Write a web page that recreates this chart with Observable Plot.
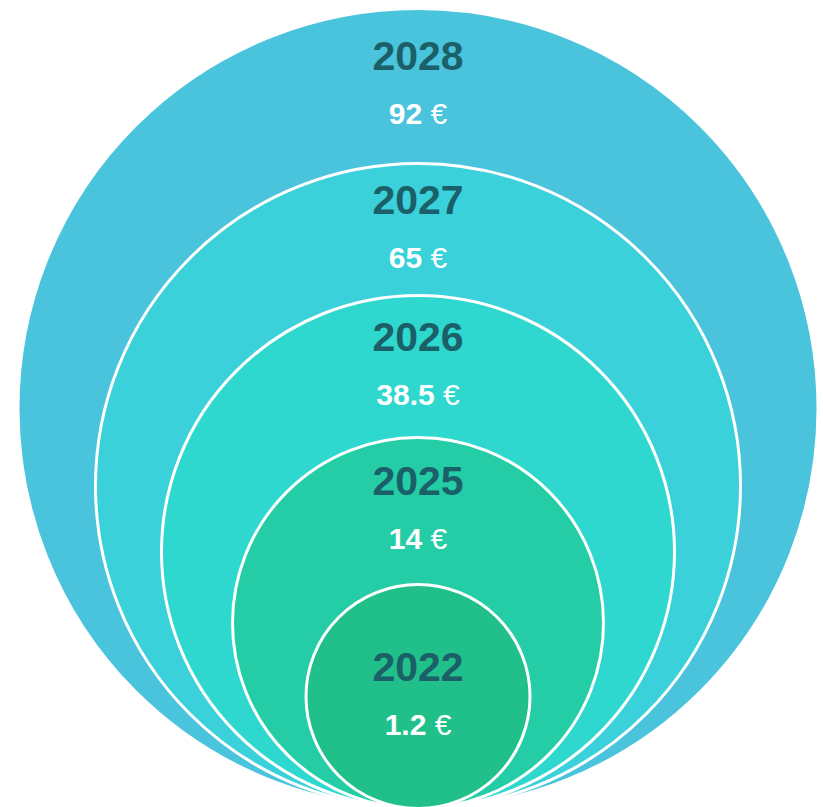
<!DOCTYPE html>
<html>
<head>
<meta charset="utf-8">
<script src="https://cdn.jsdelivr.net/npm/d3@7"></script>
<script src="https://cdn.jsdelivr.net/npm/@observablehq/plot@0.6"></script>
<style>
  html, body { margin: 0; padding: 0; background: #fff; }
  #chart svg { display: block; }
</style>
</head>
<body>
<div id="chart"></div>
<script>
// Data (outermost circle first)
const years  = ["2028", "2027", "2026", "2025", "2022"];
const values = [92, 65, 38.5, 14, 1.2];
const unit   = "€";

// Styles
const fills = ["#4ac4dc", "#3ad1da", "#2ed8ce", "#25cda6", "#21c08a"];
const yearColor = "#1b6068";
const font = "'Liberation Sans', Arial, Helvetica, sans-serif";

// Rank -> radius (size encoding by rank, 0 = smallest)
const rScale = Plot.scale({r: {type: "linear", domain: [0, 1, 2, 3, 4], range: [112, 185.5, 256.5, 322.5, 400]}});

const n = years.length;
const data = years.map((year, i) => {
  const rank = n - 1 - i;
  const r = rScale.apply(rank);
  const rNext = rank > 0 ? rScale.apply(rank - 1) : 0;
  return {year, value: values[i], label: `${values[i]} ${unit}`, fill: fills[i], r, mid: r + rNext};
});

const W = 823, H = 807, base = 808, cx = 417.5;

const plot = Plot.plot({
  width: W,
  height: H,
  margin: 0,
  x: {domain: [-cx, W - cx], range: [0, W], axis: null},
  y: {domain: [0, base], range: [base, 0], axis: null},
  r: {type: "identity"},
  style: {fontFamily: font, background: "transparent"},
  marks: [
    Plot.dot(data, {x: () => 0, y: "r", r: "r", fill: "fill", stroke: "#ffffff", strokeWidth: 3, fillOpacity: 1}),
    Plot.text(data, {x: () => 0, y: "mid", text: "year", lineAnchor: "bottom", dy: -16,
      fill: yearColor, fontSize: 41, fontWeight: "bold", textAnchor: "middle", className: "yearlbl"}),
    Plot.text(data, {x: () => 0, y: "mid", text: "label", lineAnchor: "bottom", dy: 38,
      fill: "#ffffff", fontSize: 30, fontWeight: "bold", textAnchor: "middle", className: "valuelbl"})
  ]
});

// Euro sign in normal weight
d3.select(plot).selectAll(".valuelbl text").each(function() {
  const t = this.textContent;
  const idx = t.lastIndexOf(unit);
  if (idx >= 0) {
    const sel = d3.select(this);
    sel.text(t.slice(0, idx));
    sel.append("tspan").attr("font-weight", "normal").text(unit);
  }
});

document.getElementById("chart").appendChild(plot);
</script>
</body>
</html>
